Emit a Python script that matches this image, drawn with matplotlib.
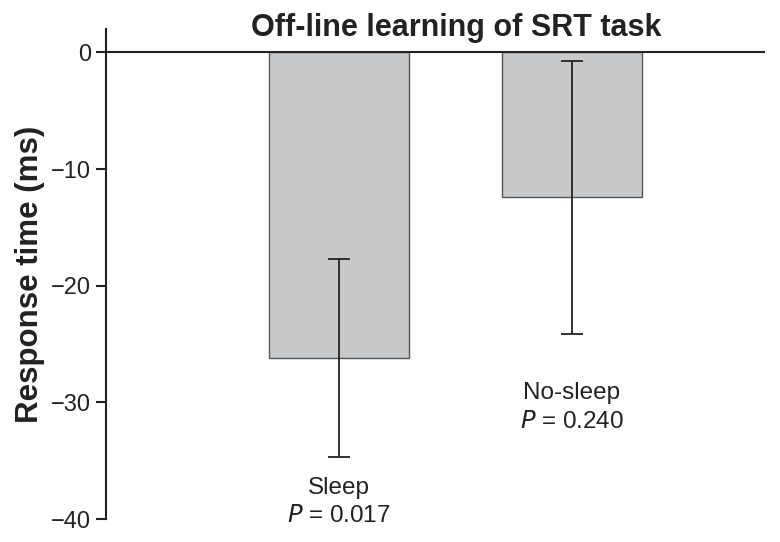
import numpy as np
import matplotlib.pyplot as plt

plt.rcParams['font.family'] = ['Liberation Sans', 'DejaVu Sans']

# datos
groups = ['Sleep', 'No-sleep']
p_labels = ['0.017', '0.240']
means = [-26.2, -12.4]
errors = [8.5, 11.7]
label_y = [-37.3, -29.2]

fig = plt.figure(figsize=(7.8, 5.42), dpi=100)
ax = fig.add_axes([0.136, 0.0424, 0.845, 0.904])

x = np.arange(len(groups))
ax.bar(x, means, width=0.6, color='#c8c9cb', edgecolor='#555555', linewidth=1.0)
ax.errorbar(x, means, yerr=errors, fmt='none', ecolor='#222222',
            elinewidth=1.3, capsize=8, capthick=1.3)

for xi, g, p, ly in zip(x, groups, p_labels, label_y):
    ax.text(xi, ly, g, ha='center', va='center', fontsize=17.5, color='#222222')
    ax.text(xi, ly - 2.45, '$P$ = ' + p, ha='center', va='center', fontsize=17.5,
            color='#222222')

ax.axhline(0, color='#222222', linewidth=1.5)

ax.set_xlim(-1.0, 1.83)
ax.set_ylim(-40, 2)
ax.set_yticks([0, -10, -20, -30, -40])
ax.set_yticklabels(['0', '\u221210', '\u221220', '\u221230', '\u221240'])
ax.set_xticks([])

for s in ['top', 'right', 'bottom']:
    ax.spines[s].set_visible(False)
ax.spines['left'].set_linewidth(1.5)
ax.spines['left'].set_color('#222222')
ax.spines['left'].set_bounds(-40, 2)
ax.tick_params(axis='y', direction='out', length=7, width=1.5, labelsize=17,
               colors='#222222', pad=4)

ax.set_ylabel('Response time (ms)', fontsize=22.5, fontweight='bold', color='#222222',
              labelpad=4)
fig.text(0.585, 0.948, 'Off-line learning of SRT task', ha='center', va='center',
         fontsize=22, fontweight='bold', color='#222222')

fig.savefig('out.png', dpi=100)
